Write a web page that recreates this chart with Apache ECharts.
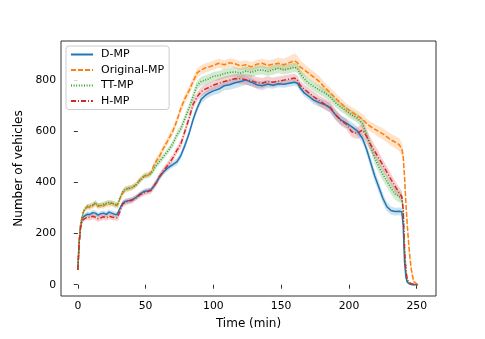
<!DOCTYPE html>
<html>
<head>
<meta charset="utf-8">
<script src="https://cdn.jsdelivr.net/npm/echarts@6/dist/echarts.min.js"></script>
<style>
  html, body { margin: 0; padding: 0; background: #fff; }
  #chart { width: 485px; height: 339px; }
</style>
</head>
<body>
<div id="chart"></div>
<script>
// time axis (minutes)
const times = [0,1,2,3,4,5,7,9,11,13,15,17,19,21,23,25,27,29,30,31,33,35,37,40,43,46,49,52,54,56,58,60,63,66,70,73,76,79,82,85,88,91,94,97,100,104,108,112,116,120,124,128,132,136,140,144,148,152,156,160,162,164,167,170,174,178,182,186,190,194,198,202,206,210,213,216,219,222,225,228,231,234,237,239,240,241,242,243,244,245,246,247,248,250,251]

const dmp = [58,165,228,255,265,272,276,275,282,280,272,278,280,275,284,280,276,275,276,298,318,326,328,332,342,355,365,368,372,385,400,420,440,455,470,480,505,545,590,645,690,725,740,750,758,765,778,782,790,795,800,792,782,778,785,780,786,784,788,792,788,770,750,738,722,712,705,692,665,645,632,618,602,572,530,478,425,382,338,305,290,286,287,285,230,90,30,10,4,2,1,0,0,0,0]
const dmpSpread = [3,6,8,8,8,8,10,10,10,10,10,10,10,10,10,10,10,10,10,10,10,10,10,10,10,10,10,10,10,12,12,12,12,12,12,14,14,14,15,15,15,16,16,16,16,18,18,20,22,20,18,16,16,18,16,14,14,14,14,14,14,14,14,14,16,16,16,18,18,18,18,18,18,18,20,22,22,22,20,18,16,15,15,15,15,12,8,5,3,2,1,1,0,0,0]

const origMp = [58,170,232,262,282,295,305,302,310,318,305,312,308,316,314,320,312,310,312,335,358,372,376,380,392,412,425,430,438,465,485,500,532,560,600,640,690,728,758,795,828,840,848,852,858,866,860,868,864,856,860,852,862,866,858,862,866,860,868,876,868,852,840,828,812,795,772,752,730,710,690,675,662,648,630,618,608,598,590,578,566,558,548,530,505,420,320,235,165,105,60,30,12,3,0]
const origSpread = [3,8,10,10,10,10,12,12,12,12,12,12,12,12,12,12,12,12,12,12,12,12,12,12,12,12,12,12,12,14,14,14,15,15,16,16,16,18,18,18,18,18,18,18,18,18,18,18,18,18,18,18,18,18,20,20,22,24,26,28,28,26,24,22,22,22,20,20,20,20,20,20,20,20,20,20,20,22,22,22,24,24,26,26,28,30,30,30,28,24,20,14,8,3,1]

const ttMp = [58,170,232,262,282,295,306,308,312,320,310,310,315,318,322,318,315,312,314,340,362,374,376,380,390,408,425,428,436,450,468,480,500,520,550,585,610,650,690,735,780,795,800,806,815,818,826,830,832,828,836,830,838,840,834,840,846,840,845,850,846,825,805,790,775,762,750,735,712,695,680,665,652,630,585,540,495,462,432,405,378,355,345,340,300,150,60,20,8,4,2,1,0,0,0]
const ttSpread = [3,6,8,8,8,8,10,10,10,10,10,10,10,10,10,10,10,10,10,10,10,10,10,10,10,10,10,10,10,12,12,12,12,12,14,14,16,16,18,18,18,18,18,18,18,18,18,18,18,18,18,18,18,18,18,18,18,18,18,18,18,18,18,18,18,18,18,18,18,18,18,18,18,20,22,22,24,24,24,24,24,22,22,20,20,15,8,4,2,1,1,0,0,0,0]

const hMp = [58,160,220,245,255,260,265,262,268,264,258,262,266,262,268,265,263,262,264,285,315,322,326,330,340,352,360,365,368,385,400,420,445,465,495,525,550,600,650,705,735,755,765,772,780,788,795,800,805,806,802,798,790,788,795,792,796,800,804,808,800,780,765,752,735,720,706,695,665,642,628,598,592,605,580,548,522,495,468,440,412,385,360,345,290,140,55,20,10,6,4,3,2,1,0]
const hSpread = [3,6,8,10,10,10,12,12,12,12,12,12,12,12,12,12,12,12,12,12,12,12,12,12,12,12,12,12,12,14,14,14,14,14,14,14,16,16,18,18,18,18,18,18,18,18,18,18,18,20,20,22,22,20,20,18,18,18,18,18,18,18,18,18,20,20,22,22,22,20,20,20,22,26,28,26,24,24,22,22,22,22,22,22,20,14,8,4,2,1,1,1,1,0,0]

const xTicks = [0, 50, 100, 150, 200, 250]
const yTicks = [0, 200, 400, 600, 800]

const lines = [
  { name: 'D-MP', values: dmp, spread: dmpSpread, color: '#1f77b4', band: 'rgba(31,119,180,0.22)', dash: 'solid' },
  { name: 'Original-MP', values: origMp, spread: origSpread, color: '#ff7f0e', band: 'rgba(255,127,14,0.22)', dash: [5, 2] },
  { name: 'TT-MP', values: ttMp, spread: ttSpread, color: '#2ca02c', band: 'rgba(44,160,44,0.22)', dash: [1, 1.6] },
  { name: 'H-MP', values: hMp, spread: hSpread, color: '#d62728', band: 'rgba(214,39,40,0.22)', dash: [5, 2, 1, 2] }
]

const chart = echarts.init(document.getElementById('chart'))

// shaded band (value +/- spread) drawn as one polygon
function bandSeries(l) {
  return {
    type: 'custom',
    silent: true,
    z: 1,
    data: times.map((t, i) => [t, l.values[i] - l.spread[i], l.values[i] + l.spread[i]]),
    encode: { x: 0, y: [1, 2] },
    renderItem: (params, api) => {
      if (params.dataIndex !== 0) return null
      const upper = times.map((t, i) => api.coord([t, l.values[i] + l.spread[i]]))
      const lower = times.map((t, i) => api.coord([t, l.values[i] - l.spread[i]])).reverse()
      return {
        type: 'polygon',
        shape: { points: upper.concat(lower) },
        style: { fill: l.band, stroke: null }
      }
    }
  }
}

const series = lines.map(bandSeries)
lines.forEach((l) => {
  series.push({
    type: 'line',
    name: l.name,
    symbol: 'none',
    color: l.color,
    lineStyle: { color: l.color, width: 1.5, type: l.dash },
    data: times.map((t, i) => [t, l.values[i]]),
    z: 3
  })
})

const tickFont = { fontFamily: 'DejaVu Sans', fontSize: 10.8, color: '#000' }
const nameFont = { fontFamily: 'DejaVu Sans', fontSize: 12, color: '#000' }

chart.setOption({
  animation: false,
  grid: {
    left: 61,
    right: 49,
    top: 41,
    bottom: 43,
    show: true,
    borderColor: '#333',
    borderWidth: 1
  },
  legend: {
    data: lines.map((l) => l.name),
    orient: 'vertical',
    left: 66,
    top: 46,
    itemWidth: 22,
    itemHeight: 12,
    itemGap: 4.5,
    padding: [3, 5, 3, 4],
    borderColor: '#ccc',
    borderWidth: 1,
    borderRadius: 3,
    backgroundColor: 'rgba(255,255,255,0.8)',
    itemStyle: { opacity: 0 },
    textStyle: { fontFamily: 'DejaVu Sans', fontSize: 11, color: '#000', padding: [0, 0, 0, 3] }
  },
  xAxis: {
    type: 'value',
    min: -12.4,
    max: 264.2,
    name: 'Time (min)',
    nameLocation: 'middle',
    nameGap: 22,
    nameTextStyle: nameFont,
    axisLine: { show: false },
    axisTick: { show: true, length: 4, lineStyle: { color: '#333' }, customValues: xTicks },
    axisLabel: Object.assign({ margin: 5, customValues: xTicks }, tickFont),
    splitLine: { show: false }
  },
  yAxis: {
    type: 'value',
    min: -44,
    max: 953,
    name: 'Number of vehicles',
    nameLocation: 'middle',
    nameGap: 30,
    nameTextStyle: nameFont,
    axisLine: { show: false },
    axisTick: { show: true, length: 4, lineStyle: { color: '#333' }, customValues: yTicks },
    axisLabel: Object.assign({ margin: 5, customValues: yTicks }, tickFont),
    splitLine: { show: false }
  },
  series: series
})
</script>
</body>
</html>
